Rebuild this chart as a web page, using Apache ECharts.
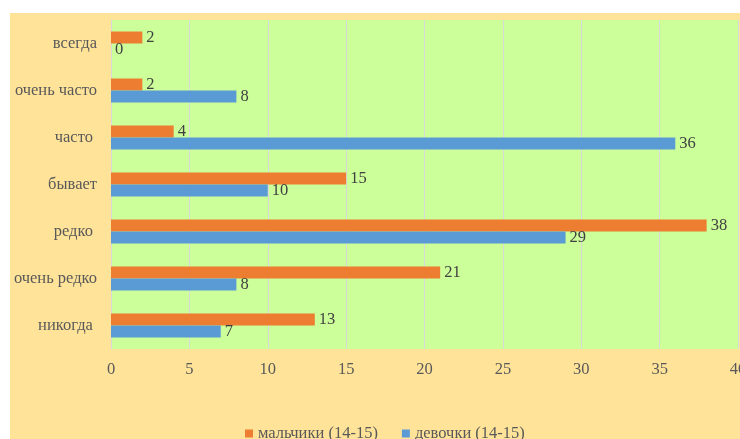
<!DOCTYPE html>
<html lang="ru">
<head>
    <meta charset="UTF-8">
    <title>chart</title>
    <script src="https://cdn.jsdelivr.net/npm/echarts@6/dist/echarts.min.js"></script>
    <style>
        html, body { margin: 0; padding: 0; background: #fff; }
        #chart { width: 740px; height: 439px; }
    </style>
</head>
<body>
<div id="chart"></div>
<script>
    // categories bottom -> top (ECharts puts the first category at the bottom)
    var categories = ['никогда ', 'очень редко', 'редко ', 'бывает', 'часто ', 'очень часто', 'всегда'];
    var boys = [13, 21, 38, 15, 4, 2, 2];
    var girls = [7, 8, 29, 10, 36, 8, 0];
    var seriesNames = ['мальчики (14-15)', 'девочки (14-15)'];
    var xTicks = { min: 0, max: 40, interval: 5 };

    var font = 'Liberation Serif';
    var txt = '#595959';
    var fs = 16.5;

    var labelStyle = {
        show: true,
        position: 'right',
        distance: 4,
        color: '#404040',
        fontFamily: font,
        fontSize: fs
    };

    var option = {
        backgroundColor: '#fff',
        animation: false,
        graphic: [{
            type: 'rect',
            z: -10,
            shape: { x: 10, y: 13, width: 730, height: 426 },
            style: { fill: '#FFE399' }
        }],
        legend: {
            data: seriesNames,
            left: 245,
            top: 425,
            padding: 0,
            icon: 'rect',
            itemWidth: 8,
            itemHeight: 8,
            itemGap: 24,
            itemStyle: { borderWidth: 0 },
            textStyle: { color: txt, fontFamily: font, fontSize: fs }
        },
        grid: {
            left: 111,
            right: 2,
            top: 20,
            bottom: 90,
            outerBoundsMode: 'none',
            containLabel: false,
            show: true,
            backgroundColor: '#CCFF99',
            borderWidth: 0
        },
        xAxis: {
            type: 'value',
            min: xTicks.min,
            max: xTicks.max,
            interval: xTicks.interval,
            axisLine: { show: false },
            axisTick: { show: false },
            axisLabel: { color: txt, fontFamily: font, fontSize: fs, margin: 12, hideOverlap: false },
            splitLine: { show: true, lineStyle: { color: '#D9D9D9', width: 1 } }
        },
        yAxis: {
            type: 'category',
            data: categories,
            axisLine: { show: true, lineStyle: { color: '#D9D9D9' } },
            axisTick: { show: false },
            axisLabel: { color: txt, fontFamily: font, fontSize: fs, margin: 14 }
        },
        series: [{
            name: seriesNames[0],
            type: 'bar',
            data: boys,
            barWidth: 12,
            barGap: '0%',
            itemStyle: { color: '#ED7D31' },
            label: labelStyle
        }, {
            name: seriesNames[1],
            type: 'bar',
            data: girls,
            barWidth: 12,
            barGap: '0%',
            itemStyle: { color: '#5B9BD5' },
            label: labelStyle
        }]
    };

    var myChart = echarts.init(document.getElementById('chart'));
    myChart.setOption(option);
</script>
</body>
</html>
